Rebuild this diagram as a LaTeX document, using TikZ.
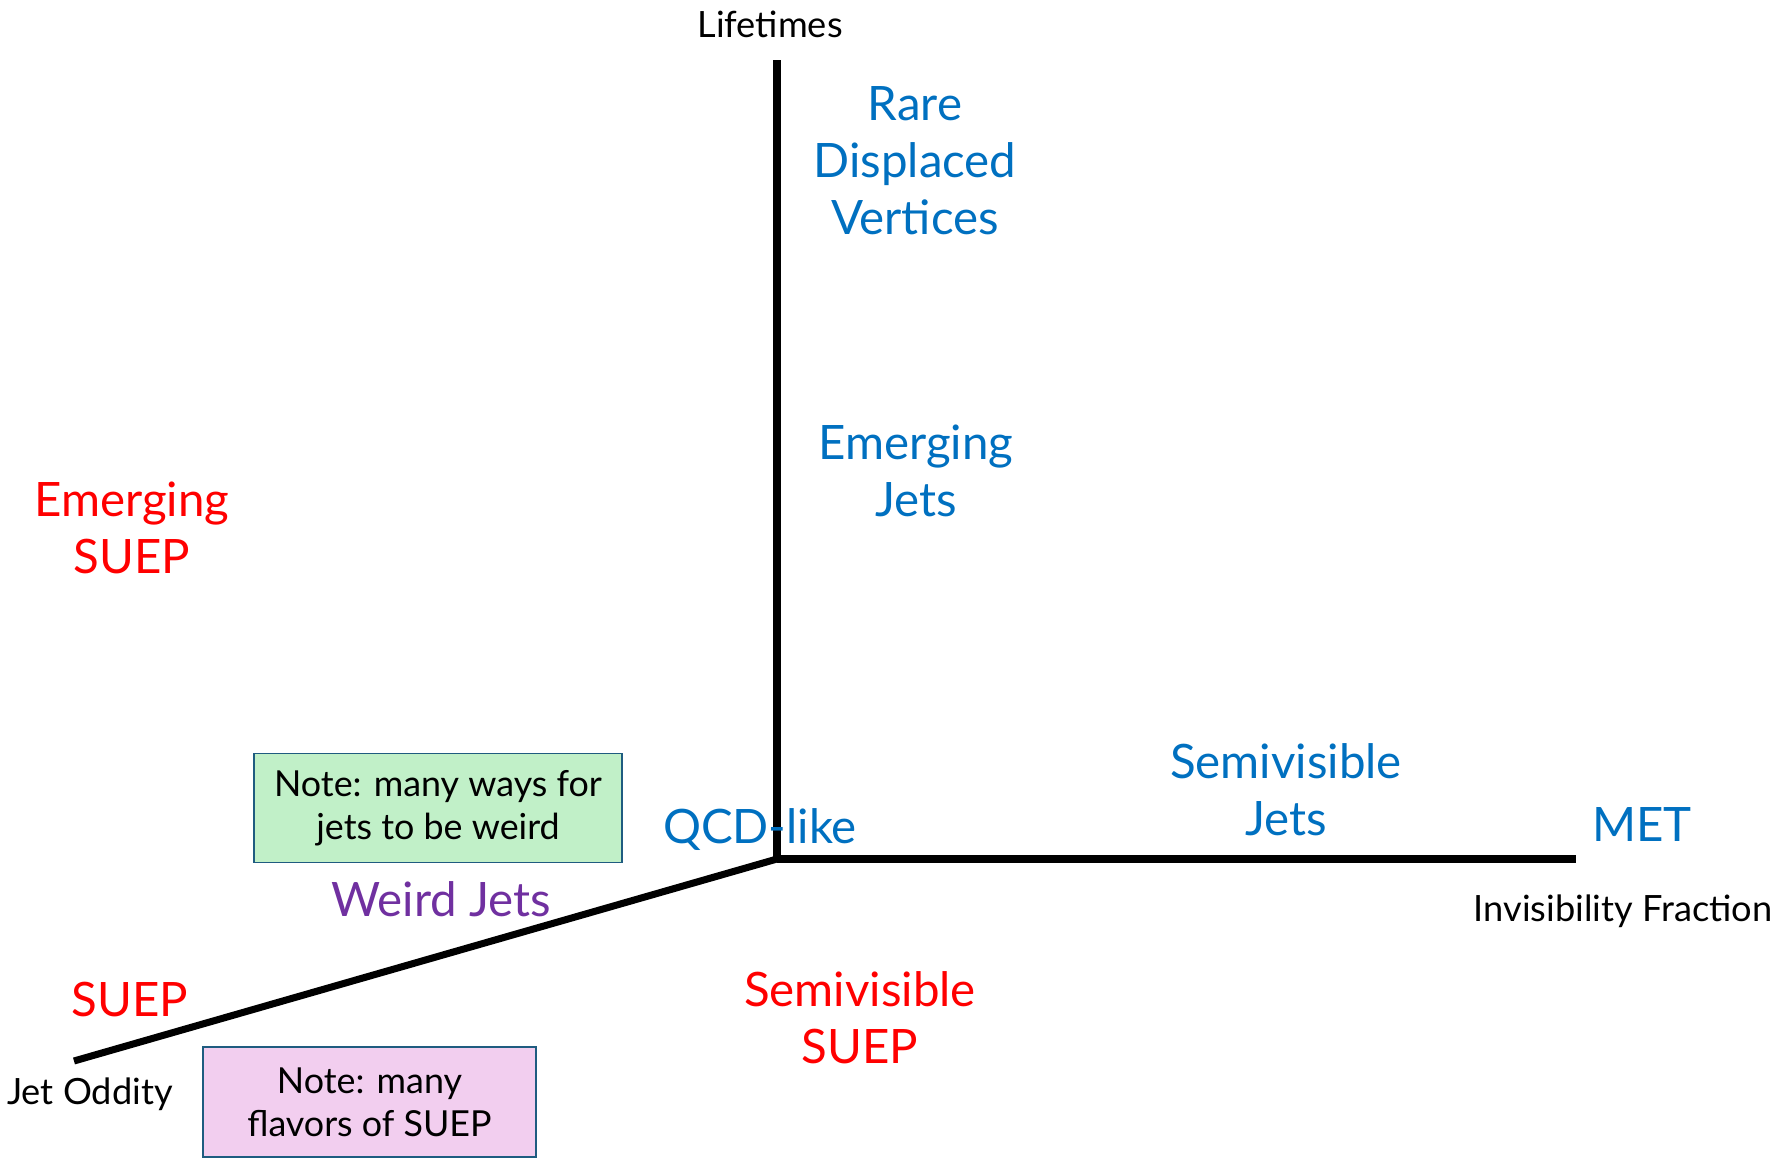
\documentclass[tikz,border=0pt]{standalone}
\usepackage{fontspec}
\setmainfont{Lato}
\usepackage{xcolor}
\usetikzlibrary{positioning}

\definecolor{modelblue}{HTML}{0070C0}
\definecolor{modelred}{HTML}{FF0000}
\definecolor{modelpurple}{HTML}{7030A0}
\definecolor{notegreen}{HTML}{C1F0C8}
\definecolor{notepink}{HTML}{F2CEEF}
\definecolor{noteedge}{HTML}{1F5C80}

\tikzset{
    axis/.style={line width=2pt},
    axislabel/.style={font=\fontsize{10.3}{12}\selectfont},
    model/.style={font=\fontsize{13.5}{16.2}\selectfont, align=center, inner sep=0pt},
    note/.style={draw=noteedge, line width=0.5pt, align=center,
        font=\fontsize{10.2}{12.3}\selectfont, inner sep=0pt}
}

\begin{document}
\begin{tikzpicture}

\useasboundingbox (0,0) rectangle (17.87,11.6);

% Axes
\coordinate (origin) at (7.77,3.01);
\coordinate (ltop) at (7.77,11.00);
\coordinate (iend) at (15.76,3.01);
\coordinate (jend) at (0.74,0.99);

\draw[axis] (origin) -- (ltop);
\draw[axis] (origin) -- (iend);
\draw[axis] (origin) -- (jend);

% Axis labels
\node[axislabel] (lifetimes) at (7.70,11.36) {Lifetimes};
\node[axislabel] (invis) at (16.23,2.49) {Invisibility Fraction};
\node[axislabel] (oddity) at (0.90,0.66) {Jet Oddity};

% Models along the axes
\node[model, text=modelblue] (rdv) at (9.15,9.99) {Rare\\Displaced\\Vertices};
\node[model, text=modelblue] (ej) at (9.16,6.89) {Emerging\\Jets};
\node[model, text=modelblue] (qcd) at (7.60,3.30) {QCD-like};
\node[model, text=modelblue] (svj) at (12.86,3.70) {Semivisible\\Jets};
\node[model, text=modelblue] (met) at (16.42,3.35) {MET};
\node[model, text=modelpurple] (weird) at (4.41,2.61) {Weird Jets};

% SUEP variants
\node[model, text=modelred] (esuep) at (1.32,6.32) {Emerging\\SUEP};
\node[model, text=modelred] (suep) at (1.30,1.60) {SUEP};
\node[model, text=modelred] (svsuep) at (8.60,1.42) {Semivisible\\SUEP};

% Notes
\node[note, fill=notegreen, minimum width=3.68cm, minimum height=1.09cm]
    (notejets) at (4.38,3.52) {Note: many ways for\\jets to be weird};
\node[note, fill=notepink, minimum width=3.33cm, minimum height=1.10cm]
    (notesuep) at (3.695,0.58) {Note: many\\flavors of SUEP};

\end{tikzpicture}
\end{document}
